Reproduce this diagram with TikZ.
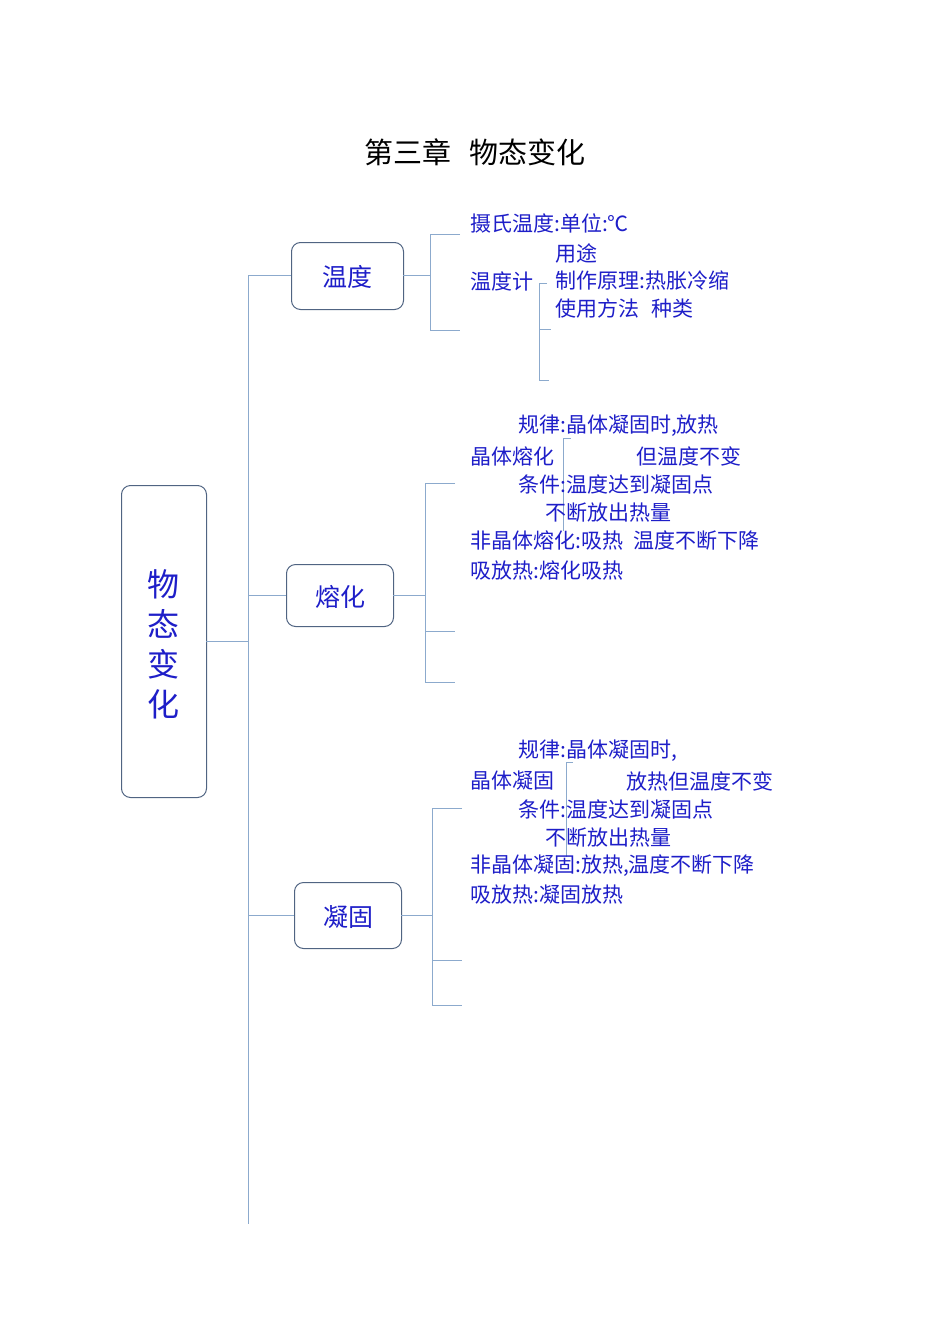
\documentclass[tikz,border=0pt]{standalone}
\usepackage{fontspec}
\setmainfont{Noto Sans CJK SC}
\definecolor{ln}{RGB}{140,170,205}
\definecolor{bx}{RGB}{80,100,130}
\definecolor{tx}{RGB}{30,30,200}
\begin{document}
\begin{tikzpicture}[x=1pt,y=-1pt,
 ln/.style={draw=ln,line width=0.9pt},
 box/.style={draw=bx,rounded corners=9pt,line width=1pt,text=tx,font=\fontsize{25}{28}\selectfont,anchor=north west},
 t/.style={anchor=west,text=tx,inner sep=0pt,font=\fontsize{21}{24}\selectfont}]
\useasboundingbox (0,0) rectangle (950,1344);
\node[font=\fontsize{29}{32}\selectfont] (title) at (475,152) {第三章\hspace{0.6em}物态变化};
\node[box,minimum width=85pt,minimum height=312pt] (main) at (121,485) {};
\node[text=tx,font=\fontsize{32}{40}\selectfont,align=center] (mt) at (163,644) {物\\态\\变\\化};
\node[box,minimum width=112pt,minimum height=67pt] (wd) at (291,242) {};
\node[text=tx,font=\fontsize{25}{28}\selectfont] at (347,277) {温度};
\node[box,minimum width=107pt,minimum height=62pt] (rh) at (286,564) {};
\node[text=tx,font=\fontsize{25}{28}\selectfont] at (340,597) {熔化};
\node[box,minimum width=107pt,minimum height=66pt] (ng) at (294,882) {};
\node[text=tx,font=\fontsize{25}{28}\selectfont] at (348,917) {凝固};
% trunk
\draw[ln] (206,641) -- (248,641);
\draw[ln] (248,275) -- (248,1224);
\draw[ln] (248,275) -- (291,275);
\draw[ln] (248,595) -- (286,595);
\draw[ln] (248,915) -- (294,915);
% wendu
\draw[ln] (403,275) -- (430,275);
\draw[ln] (460,234) -- (430,234) -- (430,330) -- (460,330);
\draw[ln] (547,283) -- (539,283) -- (539,380) -- (549,380);
\draw[ln] (539,329) -- (551,329);
\node[t] at (470,223) {摄氏温度:单位:℃};
\node[t] at (555,253) {用途};
\node[t] at (470,281) {温度计};
\node[t] at (555,281) {制作原理:热胀冷缩};
\node[t] at (555,309) {使用方法\hspace{0.6em}种类};
% ronghua
\draw[ln] (393,595) -- (425,595);
\draw[ln] (455,483) -- (425,483) -- (425,682) -- (455,682);
\draw[ln] (425,631) -- (455,631);
\draw[ln] (571,438) -- (563,438) -- (563,531);
\node[t] at (518,426) {规律:晶体凝固时,放热};
\node[t] at (470,456) {晶体熔化};
\node[t] at (636,456) {但温度不变};
\node[t] at (518,484) {条件:温度达到凝固点};
\node[t] at (545,513) {不断放出热量};
\node[t] at (470,541) {非晶体熔化:吸热\hspace{0.5em}温度不断下降};
\node[t] at (470,570) {吸放热:熔化吸热};
% ninggu
\draw[ln] (401,915) -- (432,915);
\draw[ln] (462,808) -- (432,808) -- (432,1005) -- (462,1005);
\draw[ln] (432,960) -- (462,960);
\draw[ln] (573,762) -- (566,762) -- (566,857);
\node[t] at (518,751) {规律:晶体凝固时,};
\node[t] at (470,781) {晶体凝固};
\node[t] at (626,781) {放热但温度不变};
\node[t] at (518,809) {条件:温度达到凝固点};
\node[t] at (545,838) {不断放出热量};
\node[t] at (470,866) {非晶体凝固:放热,温度不断下降};
\node[t] at (470,895) {吸放热:凝固放热};
\end{tikzpicture}
\end{document}
